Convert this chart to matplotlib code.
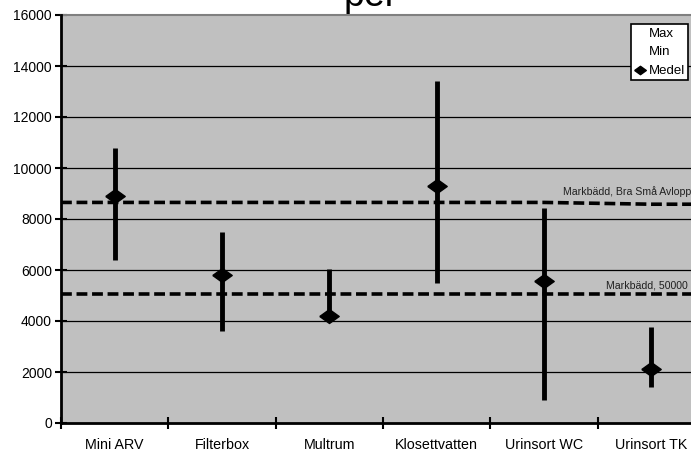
import matplotlib.pyplot as plt
import numpy as np

plt.rcParams['font.family'] = ['Liberation Sans', 'DejaVu Sans']

# data
kategorier = ['Mini ARV', 'Filterbox', 'Multrum', 'Klosettvatten', 'Urinsort WC', 'Urinsort TK']
maxv = [10800, 7500, 6050, 13400, 8450, 3750]
minv = [6400, 3600, 4150, 5500, 900, 1400]
medel = [8900, 5800, 4200, 9300, 5550, 2100]

# reference lines (value at each category centre)
bra_sma_avlopp = [8650, 8650, 8650, 8650, 8650, 8580]
markbadd_50000 = [5050, 5050, 5050, 5050, 5050, 5050]

fig = plt.figure(figsize=(6.91, 4.54), dpi=100)
ax = fig.add_axes([61/691, 31/454, 644/691, 408/454])
ax.set_facecolor('#C0C0C0')

ind = np.arange(len(kategorier)) + 0.5

# grid
for y in range(2000, 16000, 2000):
    ax.axhline(y, color='black', lw=0.9, zorder=1)

# reference lines, extended to the edges of the plot area
xr = np.concatenate(([0], ind, [len(kategorier)]))
for vals in (bra_sma_avlopp, markbadd_50000):
    yr = np.concatenate(([vals[0]], vals, [vals[-1]]))
    ax.plot(xr, yr, color='black', lw=2.6, ls=(0, (3, 1.3)), zorder=2)
ax.text(4.68, bra_sma_avlopp[0] + 230, 'Markbädd, Bra Små Avlopp', fontsize=7.6,
        color='#202020', va='bottom', ha='left', clip_on=False)
ax.text(5.08, markbadd_50000[0] + 150, 'Markbädd, 50000 l', fontsize=7.6,
        color='#202020', va='bottom', ha='left', clip_on=False)

# wide diamond like the original marker
diamant = [(-1, 0), (0, 0.72), (1, 0), (0, -0.72), (-1, 0)]

# high-low lines and means
ax.vlines(ind, minv, maxv, color='black', lw=3.5, zorder=3)
hmax, = ax.plot([], [], ls='none', label='Max')
hmin, = ax.plot([], [], ls='none', label='Min')
hmed, = ax.plot(ind, medel, ls='none', marker=diamant, color='black', ms=14, zorder=4, label='Medel')

ax.set_xlim(0, len(kategorier))
ax.set_ylim(0, 16000)
ax.set_yticks(range(0, 16001, 2000))
ax.set_xticks(range(0, len(kategorier) + 1))
ax.set_xticklabels([])
ax.set_xticks(ind, minor=True)
ax.set_xticklabels(kategorier, minor=True, fontsize=10.3)
ax.tick_params(axis='x', which='minor', length=0, pad=11)
ax.tick_params(axis='x', which='major', direction='inout', length=9, width=1.5)
ax.tick_params(axis='y', direction='inout', length=9, width=1.5, labelsize=10, pad=2)

for s in ('left', 'bottom'):
    ax.spines[s].set_linewidth(2)
    ax.spines[s].set_zorder(5)
ax.spines['top'].set_color('#808080')
ax.spines['top'].set_linewidth(1.5)
ax.spines['right'].set_visible(False)

leg = ax.legend(handles=[hmax, hmin, hmed], loc='upper left', bbox_to_anchor=(0.885, 0.978),
                borderaxespad=0, fontsize=9.5, frameon=True, fancybox=False, edgecolor='black',
                handlelength=0.8, handletextpad=0.3, borderpad=0.25, labelspacing=0.5,
                markerscale=0.6)
leg.get_frame().set_linewidth(1.2)
leg.get_frame().set_facecolor('white')
leg.get_frame().set_alpha(1)

fig.text(371/691, 1 - 6.5/454, 'per', fontsize=27, ha='center', va='baseline')

fig.savefig('out.png', dpi=100)
